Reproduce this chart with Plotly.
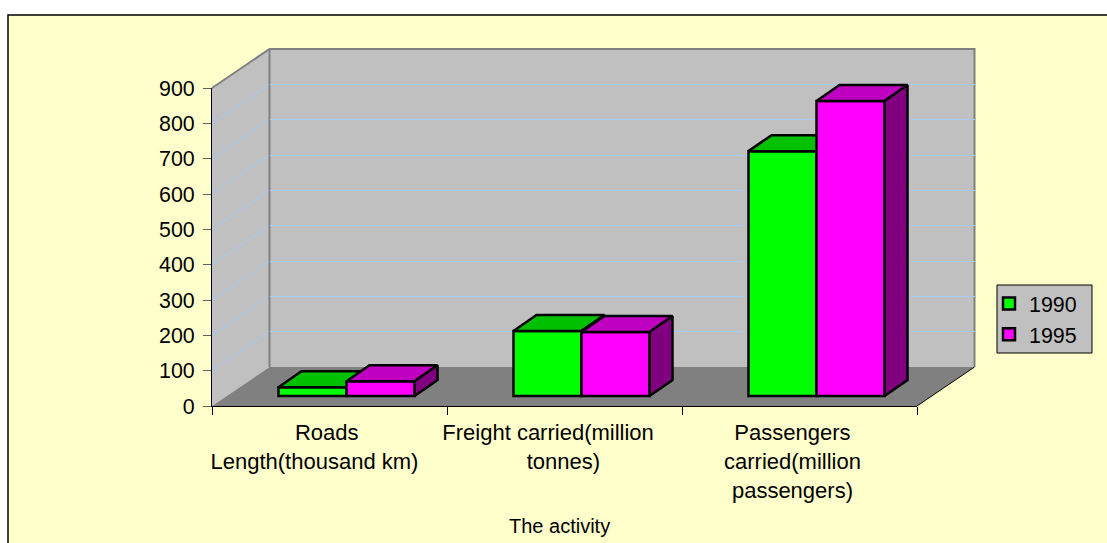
import plotly.graph_objects as go

W, H = 1107, 543
NB = "\u00a0"
categories = [NB * 4 + "Roads<br>Length(thousand km)",
              "Freight carried(million<br>" + NB * 5 + "tonnes)",
              "Passengers<br>carried(million<br>passengers)"]
label_nudge = [-0.064, -0.07, -0.03]
years = ["1990", "1995"]
values_1990 = [25, 184, 693]
values_1995 = [42, 181, 835]
y_ticks = [0, 100, 200, 300, 400, 500, 600, 700, 800, 900]
FS = 21.4
FONT = "Liberation Sans, Arial, sans-serif"


def fx(p):
    return p / W


def fy(p):
    return 1 - p / H


PX_X = 235.0
PX_Y = 318 / 900
wall_dx, wall_dy = 57.5 / PX_X, 39 / PX_Y
bar_dx, bar_dy = 23 / PX_X, 16 / PX_Y
BAR_W = 68 / PX_X
X0, X1, Y0, Y1 = -0.5, 2.5, 0, 900

fig = go.Figure()


def stage(xs, ys, color="rgba(0,0,0,0)", width=0, fill=None):
    fig.add_trace(go.Scatter(
        x=xs, y=ys, mode="lines", line=dict(color=color, width=width),
        fill="toself" if fill else None, fillcolor=fill, hoverinfo="skip", showlegend=False,
        xaxis="x", yaxis="y"))


BX = X0 + wall_dx
RX = X1 + wall_dx
BY0 = Y0 + wall_dy
BY1 = Y1 + wall_dy
stage([X0, BX, BX, X0, X0], [Y0, BY0, BY1, Y1, Y0], fill="#C0C0C0")
stage([BX, RX, RX, BX, BX], [BY0, BY0, BY1, BY1, BY0], fill="#C0C0C0")
stage([X0, X1, RX, BX, X0], [Y0, Y0, BY0, BY0, Y0], fill="#808080")
for v in y_ticks[1:-1]:
    stage([X0, BX], [v, v + wall_dy], color="#A6CAF0", width=1)
stage([X0, BX, RX, RX], [Y1, BY1, BY1, BY0], color="#808080", width=2)
stage([BX, BX], [BY0, BY1], color="#808080", width=2)
stage([X1, RX], [Y0, BY0], color="#000000", width=1)

# axes with ticks and labels, back wall grid carrier
fig.add_trace(go.Scatter(x=[0], y=[0], mode="markers", marker=dict(opacity=0), hoverinfo="skip",
                         showlegend=False, xaxis="x2", yaxis="y2"))
fig.add_trace(go.Scatter(x=[0], y=[0], mode="markers", marker=dict(opacity=0), hoverinfo="skip",
                         showlegend=False, xaxis="x3", yaxis="y3"))


def add_series(name, vals, offset, front, top, side, xa, ya):
    fig.add_trace(go.Bar(
        x=list(range(len(vals))), y=vals, name=name, width=BAR_W, offset=offset,
        marker=dict(color=front, line=dict(color="#000000", width=2.5)), xaxis=xa, yaxis=ya))
    for i, v in enumerate(vals):
        a = i + offset
        b = a + BAR_W
        fig.add_trace(go.Scatter(
            x=[a, a + bar_dx, b + bar_dx, b, a], y=[v, v + bar_dy, v + bar_dy, v, v],
            mode="lines", fill="toself", fillcolor=top, line=dict(color="#000000", width=2.5),
            hoverinfo="skip", showlegend=False, xaxis=xa, yaxis=ya))
        fig.add_trace(go.Scatter(
            x=[b, b + bar_dx, b + bar_dx, b, b], y=[0, bar_dy, v + bar_dy, v, 0],
            mode="lines", fill="toself", fillcolor=side, line=dict(color="#000000", width=2.5),
            hoverinfo="skip", showlegend=False, xaxis=xa, yaxis=ya))


add_series(years[0], values_1990, -BAR_W, "#00FF00", "#00C000", "#008000", "x4", "y4")
add_series(years[1], values_1995, 0, "#FF00FF", "#C000C0", "#800080", "x5", "y5")

hidden = dict(visible=False, fixedrange=True)
range_x = [X0, X1]
range_y = [Y0, Y1]
# stage spans more than the walls so that their edges are not clipped
stage_px = (200, 990, 415, 40)
stage_rx = [X0 + (stage_px[0] - 212) / PX_X, X0 + (stage_px[1] - 212) / PX_X]
stage_ry = [(406 - stage_px[2]) / PX_Y, (406 - stage_px[3]) / PX_Y]
# bar axes: zero at pixel row 396, room above and below for the outlines and top faces
bar_ry = [-6 / PX_Y, (396 - 60) / PX_Y]

layout = dict(
    width=W, height=H, autosize=False, margin=dict(l=0, r=0, t=0, b=0),
    paper_bgcolor="#FFFFFF", plot_bgcolor="rgba(0,0,0,0)",
    font=dict(family=FONT, size=FS, color="#000000"),
    shapes=[
        dict(type="rect", xref="paper", yref="paper", x0=fx(8), x1=fx(W + 10), y0=fy(15), y1=fy(H + 10),
             fillcolor="#FFFFCC", line=dict(color="#000000", width=1.5), layer="below"),
        dict(type="rect", xref="paper", yref="paper", x0=fx(997), x1=fx(1092), y0=fy(285), y1=fy(353),
             fillcolor="#C0C0C0", line=dict(color="#000000", width=1), layer="below"),
    ],
    annotations=[dict(text="The activity", xref="paper", yref="paper", x=fx(559), y=fy(526),
                      xanchor="center", yanchor="middle", showarrow=False, font=dict(size=20))],
    xaxis=dict(domain=[fx(stage_px[0]), fx(stage_px[1])], range=stage_rx, anchor="y", **hidden),
    yaxis=dict(domain=[fy(stage_px[2]), fy(stage_px[3])], range=stage_ry, anchor="x", **hidden),
    xaxis2=dict(domain=[fx(212), fx(917)], range=range_x, anchor="y2", showgrid=False, zeroline=False,
                showline=True, linecolor="#000000", linewidth=1,
                tickmode="array", tickvals=[i + n for i, n in enumerate(label_nudge)], ticktext=categories,
                ticks="", tickangle=0, tickfont=dict(size=22), ticklabelstandoff=7,
                minor=dict(tickmode="array", tickvals=[-0.5, 0.5, 1.5, 2.5], ticks="outside", ticklen=8,
                           tickcolor="#000000", tickwidth=1, showgrid=False),
                automargin=False, fixedrange=True),
    yaxis2=dict(domain=[fy(406), fy(88)], range=range_y, anchor="x2", showgrid=False, zeroline=False,
                showline=True, linecolor="#000000", linewidth=1,
                tickmode="array", tickvals=y_ticks, ticks="outside", ticklen=8, tickcolor="#606060", tickwidth=1,
                tickfont=dict(size=FS), ticklabelstandoff=4, automargin=False, fixedrange=True),
    xaxis3=dict(domain=[fx(269.5), fx(974.5)], range=range_x, anchor="y3", **hidden),
    yaxis3=dict(domain=[fy(367), fy(49)], range=range_y, anchor="x3", showgrid=True, gridcolor="#A6CAF0",
                gridwidth=1, zeroline=False, showline=False, tickmode="array", tickvals=y_ticks[1:-1], ticks="",
                showticklabels=False, fixedrange=True),
    xaxis4=dict(domain=[fx(229), fx(934)], range=range_x, anchor="y4", **hidden),
    yaxis4=dict(domain=[fy(402), fy(60)], range=bar_ry, anchor="x4", **hidden),
    xaxis5=dict(domain=[fx(229), fx(934)], range=range_x, anchor="y5", overlaying="x4", **hidden),
    yaxis5=dict(domain=[fy(402), fy(60)], range=bar_ry, anchor="x5", overlaying="y4", **hidden),
    legend=dict(x=fx(989), y=fy(319), xanchor="left", yanchor="middle", bgcolor="rgba(0,0,0,0)",
                borderwidth=0, font=dict(size=FS), itemclick=False, itemdoubleclick=False),
    showlegend=True,
)
fig.update_layout(**layout)
fig.write_html("out.html", config={"displayModeBar": False},
               post_script="document.body.style.margin='0';document.body.style.overflow='hidden';")
